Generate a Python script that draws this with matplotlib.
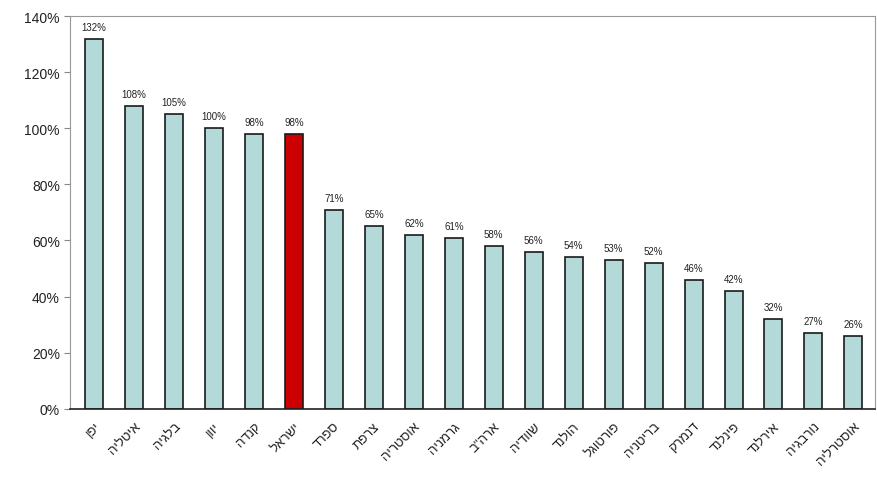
import matplotlib.pyplot as plt
import numpy as np

plt.rcParams["font.family"] = ["Liberation Sans", "DejaVu Sans"]

# country names (logical order) and values in percent
countries = [
    "יפן", "איטליה", "בלגיה", "יוון", "קנדה", "ישראל", "ספרד", "צרפת",
    "אוסטריה", "גרמניה", 'ארה"ב', "שוודיה", "הולנד", "פורטוגל",
    "בריטניה", "דנמרק", "פינלנד", "אירלנד", "נורבגיה", "אוסטרליה",
]
values = [132, 108, 105, 100, 98, 98, 71, 65, 62, 61,
          58, 56, 54, 53, 52, 46, 42, 32, 27, 26]
highlight = "ישראל"

fig = plt.figure(figsize=(8.78, 4.89), dpi=100)
ax = fig.add_axes([0.08, 0.162, 0.917, 0.803])

x = np.arange(len(countries))
colors = ["#cc0000" if c == highlight else "#b3d9d9" for c in countries]
ax.bar(x, values, width=0.45, color=colors, edgecolor="#1a1a1a", linewidth=1.2)

for xi, v in zip(x, values):
    ax.text(xi, v + 2.5, f"{v}%", ha="center", va="bottom", fontsize=7,
            color="#222222")

ax.set_xlim(-0.6, len(countries) - 0.45)
ax.set_ylim(0, 140)
ax.set_yticks(np.arange(0, 141, 20))
ax.set_yticklabels([f"{t}%" for t in range(0, 141, 20)], fontsize=10,
                   color="#222222")
ax.tick_params(axis="y", direction="out", length=4, color="#888888")

# matplotlib draws left-to-right, so reverse the Hebrew for display
ax.set_xticks(x)
ax.set_xticklabels([c[::-1] for c in countries], rotation=45, ha="right",
                   rotation_mode="anchor", fontsize=9.5, color="#222222")
ax.tick_params(axis="x", length=0, pad=8)

for side in ["top", "right", "left"]:
    ax.spines[side].set_color("#999999")
ax.spines["bottom"].set_color("#222222")
ax.spines["bottom"].set_linewidth(1.2)

fig.savefig("out.png", dpi=100)
